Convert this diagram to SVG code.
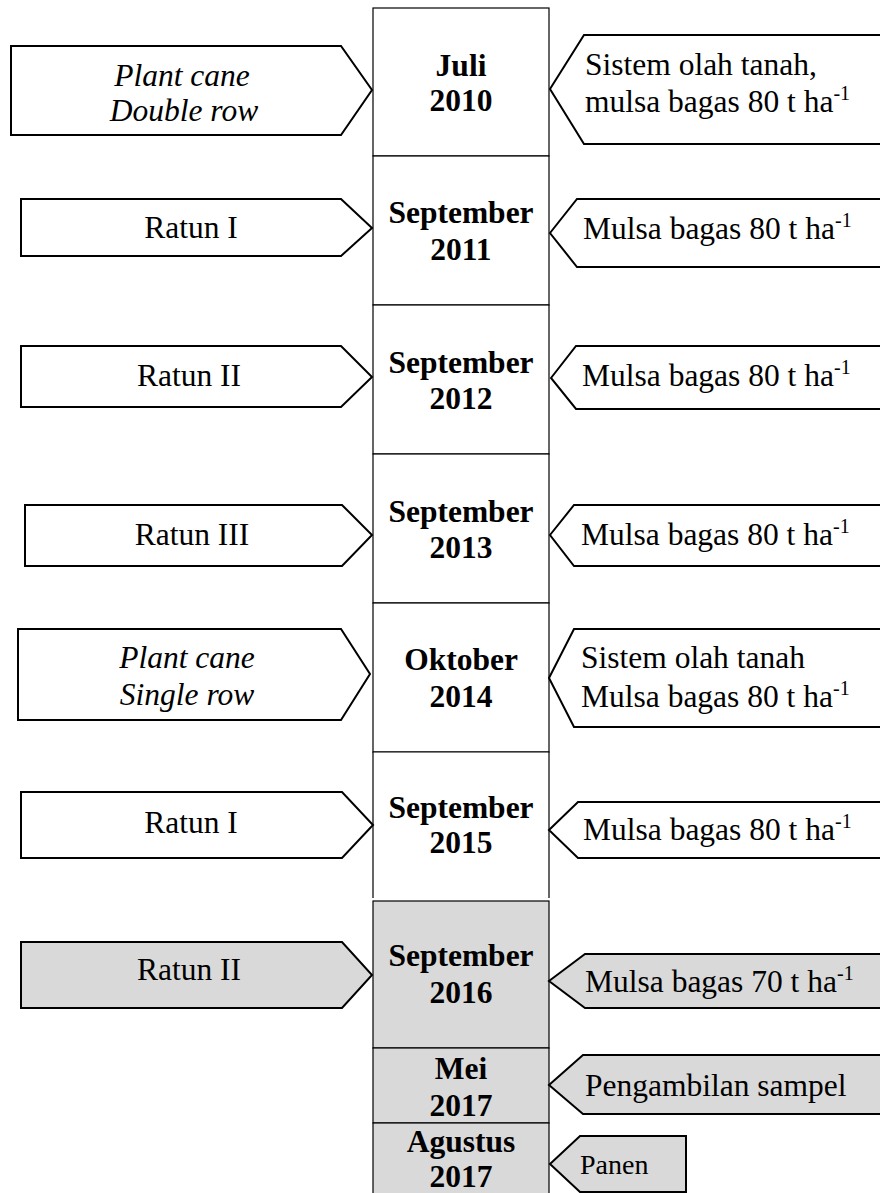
<svg xmlns="http://www.w3.org/2000/svg" width="880" height="1193" viewBox="0 0 880 1193">
<style>
.col{fill:#ffffff;stroke:#000;stroke-width:1.2}
.colg{fill:#d9d9d9;stroke:#000;stroke-width:1.2}
.arr{fill:#ffffff;stroke:#000;stroke-width:2;stroke-linejoin:miter}
.arrg{fill:#d9d9d9;stroke:#000;stroke-width:2;stroke-linejoin:miter}
text{font-family:"Liberation Serif","Times New Roman",serif;font-size:31.5px;fill:#000}
.b{font-weight:bold;text-anchor:middle}
.m{text-anchor:middle}
.i{font-style:italic;text-anchor:middle}
.sup{font-size:20px}
</style>
<rect width="880" height="1193" fill="#ffffff"/>

<g id="timeline">
  <g id="d2010"><rect class="col" x="373" y="8" width="176" height="148"/><text class="b" x="461" y="76">Juli</text><text class="b" x="461" y="111">2010</text></g>
  <g id="d2011"><rect class="col" x="373" y="156" width="176" height="149"/><text class="b" x="461" y="223">September</text><text class="b" x="461" y="260">2011</text></g>
  <g id="d2012"><rect class="col" x="373" y="305" width="176" height="149"/><text class="b" x="461" y="373">September</text><text class="b" x="461" y="409">2012</text></g>
  <g id="d2013"><rect class="col" x="373" y="454" width="176" height="149"/><text class="b" x="461" y="522">September</text><text class="b" x="461" y="558">2013</text></g>
  <g id="d2014"><rect class="col" x="373" y="603" width="176" height="149"/><text class="b" x="461" y="670">Oktober</text><text class="b" x="461" y="707">2014</text></g>
  <g id="d2015"><path class="col" d="M373,898 V752 H549 V898"/><text class="b" x="461" y="818">September</text><text class="b" x="461" y="853">2015</text></g>
  <g id="d2016"><rect class="colg" x="373" y="901" width="176" height="147" stroke-width="1.6"/><text class="b" x="461" y="966">September</text><text class="b" x="461" y="1003">2016</text></g>
  <g id="d2017mei"><rect class="colg" x="373" y="1048" width="176" height="75"/><text class="b" x="461" y="1079">Mei</text><text class="b" x="461" y="1116">2017</text></g>
  <g id="d2017agu"><rect class="colg" x="373" y="1123" width="176" height="80"/><text class="b" x="461" y="1152">Agustus</text><text class="b" x="461" y="1187">2017</text></g>
</g>

<g id="left">
  <g id="l1"><polygon class="arr" points="11,46 341,46 372,90 341,135 11,135"/><text class="i" x="182" y="86">Plant cane</text><text class="i" x="184" y="121">Double row</text></g>
  <g id="l2"><polygon class="arr" points="21,199 341,199 372,228 341,256 21,256"/><text class="m" x="191" y="238">Ratun I</text></g>
  <g id="l3"><polygon class="arr" points="21,346 341,346 372,377 341,407 21,407"/><text class="m" x="189" y="386">Ratun II</text></g>
  <g id="l4"><polygon class="arr" points="25,505 342,505 372,535 342,566 25,566"/><text class="m" x="192" y="545">Ratun III</text></g>
  <g id="l5"><polygon class="arr" points="18,629 341,629 370,674 341,720 18,720"/><text class="i" x="187" y="668">Plant cane</text><text class="i" x="187" y="705">Single row</text></g>
  <g id="l6"><polygon class="arr" points="21,792 342,792 373,825 342,858 21,858"/><text class="m" x="191" y="833">Ratun I</text></g>
  <g id="l7"><polygon class="arrg" points="21,942 342,942 372,975 342,1008 21,1008"/><text class="m" x="189" y="980">Ratun II</text></g>
</g>

<g id="right">
  <g id="r1"><polygon class="arr" points="550,89 584,35 890,35 890,144 584,144"/><text x="585" y="75">Sistem olah tanah,</text><text x="585" y="112">mulsa bagas 80 t ha<tspan class="sup" dy="-12">-1</tspan></text></g>
  <g id="r2"><polygon class="arr" points="550,233 577,199 890,199 890,267 577,267"/><text x="583" y="239">Mulsa bagas 80 t ha<tspan class="sup" dy="-12">-1</tspan></text></g>
  <g id="r3"><polygon class="arr" points="551,378 576,346 890,346 890,409 576,409"/><text x="582" y="386">Mulsa bagas 80 t ha<tspan class="sup" dy="-12">-1</tspan></text></g>
  <g id="r4"><polygon class="arr" points="550,535 574,505 890,505 890,566 574,566"/><text x="581" y="545">Mulsa bagas 80 t ha<tspan class="sup" dy="-12">-1</tspan></text></g>
  <g id="r5"><polygon class="arr" points="549,678 574,629 890,629 890,727 574,727"/><text x="581" y="668">Sistem olah tanah</text><text x="581" y="707">Mulsa bagas 80 t ha<tspan class="sup" dy="-12">-1</tspan></text></g>
  <g id="r6"><polygon class="arr" points="549,830 578,802 890,802 890,858 578,858"/><text x="583" y="840">Mulsa bagas 80 t ha<tspan class="sup" dy="-12">-1</tspan></text></g>
  <g id="r7"><polygon class="arrg" points="549,981 585,954 890,954 890,1008 585,1008"/><text x="585" y="992">Mulsa bagas 70 t ha<tspan class="sup" dy="-12">-1</tspan></text></g>
  <g id="r8"><polygon class="arrg" points="549,1085 583,1055 890,1055 890,1114 583,1114"/><text x="585" y="1096">Pengambilan sampel</text></g>
  <g id="r9"><polygon class="arrg" points="550,1164 580,1136 686,1136 686,1192 580,1192"/><text x="580" y="1174" style="font-size:28px">Panen</text></g>
</g>
</svg>
